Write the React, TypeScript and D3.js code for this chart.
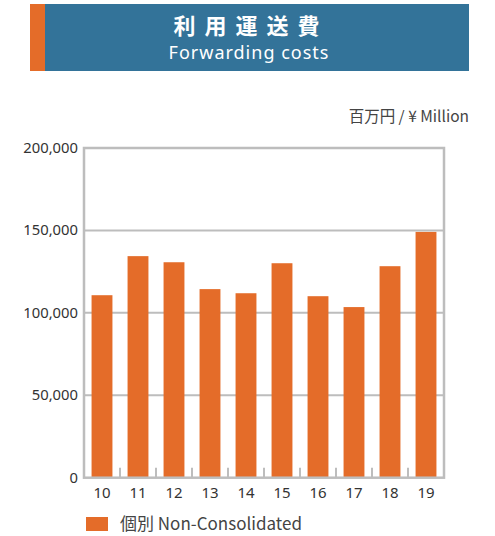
import React from "react";
import * as d3 from "d3";

const years = ["10", "11", "12", "13", "14", "15", "16", "17", "18", "19"];
const values = [110700, 134400, 130700, 114400, 111900, 130100, 110100, 103500, 128300, 149100];
const yTicks = [0, 50000, 100000, 150000, 200000];

const ORANGE = "#E46C29";
const BLUE = "#337399";
const GRID = "#BDBDBD";
const TEXT = "#333";
const FONT = "'Noto Sans', 'Open Sans', sans-serif";
const CJK = "'Noto Sans CJK JP', 'Noto Sans', sans-serif";

export default function App() {
  const W = 495, H = 536;
  const left = 84, right = 444, top = 148, bottom = 477.7;
  const x = d3.scaleBand<string>().domain(years).range([left, right]).paddingInner(0.42).paddingOuter(0.21);
  const xb = d3.scaleBand<string>().domain(years).range([left, right]);
  const y = d3.scaleLinear().domain([0, 200000]).range([bottom, top]);
  const fmt = d3.format(",");
  return (
    <svg width={W} height={H} style={{ position: "absolute", left: 0, top: 0 }}>
      <rect x={30} y={4} width={15} height={67} fill={ORANGE} />
      <rect x={45} y={4} width={424} height={67} fill={BLUE} />
      <text x={251} y={34} textAnchor="middle" fill="#fff" fontFamily={CJK} fontSize={22} fontWeight={700} letterSpacing={9}>利用運送費</text>
      <text x={249} y={59} textAnchor="middle" fill="#fff" fontFamily={FONT} fontSize={18} letterSpacing={1}>Forwarding costs</text>
      <text x={469} y={122} textAnchor="end" fill="#444" fontFamily={CJK} fontSize={15.5}>百万円 / ¥ Million</text>
      {yTicks.map((t) => (
        <g key={t}>
          {t > 0 && t < 200000 && (
            <line x1={left} x2={right} y1={y(t)} y2={y(t)} stroke={GRID} strokeWidth={2} />
          )}
          <text x={78} y={y(t) + 5} textAnchor="end" fill={TEXT} fontFamily={FONT} fontSize={14.8}>{fmt(t)}</text>
        </g>
      ))}
      {years.slice(1).map((yr) => (
        <line key={yr} x1={xb(yr)!} x2={xb(yr)!} y1={bottom - 10} y2={bottom} stroke={GRID} strokeWidth={2} />
      ))}
      {years.map((yr, i) => (
        <rect key={yr} x={x(yr)!} y={y(values[i])} width={x.bandwidth()} height={bottom - y(values[i])} fill={ORANGE} />
      ))}
      <rect x={left} y={top} width={right - left} height={bottom - top} fill="none" stroke={GRID} strokeWidth={2.5} />
      {years.map((yr) => (
        <text key={yr} x={xb(yr)! + xb.bandwidth() / 2} y={498} textAnchor="middle" fill={TEXT} fontFamily={FONT} fontSize={15}>{yr}</text>
      ))}
      <rect x={86} y={517} width={22} height={14} fill={ORANGE} />
      <text x={120} y={530} fill="#444" fontFamily={CJK} fontSize={17}>個別 Non-Consolidated</text>
    </svg>
  );
}
